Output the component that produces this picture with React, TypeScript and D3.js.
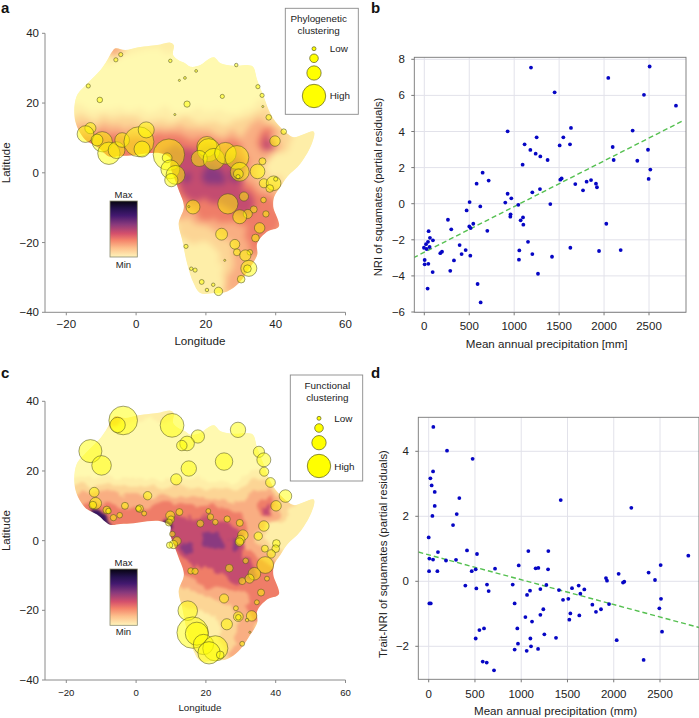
import React from "react";
import * as d3 from "d3";

type P = [number, number];
type B = [number, number, number];

const africaOutline: P[] = [[-5.9,35.7],[-3.1,35.2],[0.3,35.9],[4.1,36.4],[7,36.8],[9.8,37.3],[10.8,36.6],[10.6,33.8],[12.2,32.3],[13.7,31.6],[15.6,30.4],[18.4,30.9],[20.3,32.3],[22.3,33.1],[24.2,31.4],[28,30.7],[31.8,30.9],[33.5,30.4],[34.7,26.6],[36.6,21.8],[38,18],[39.9,14.7],[43.3,11.3],[45.2,10.2],[50.9,11.8],[50.4,8.5],[47.1,2.7],[43.3,-1.1],[41.4,-4],[39.6,-6.8],[39.3,-9.7],[40.9,-15.4],[37.5,-16.9],[34.7,-20.2],[34.7,-23.5],[32.8,-26.9],[29.4,-31.7],[26.1,-34],[22.3,-34.5],[18.4,-34.5],[16.5,-31.7],[14.6,-25.9],[13.2,-19.2],[12.2,-14.5],[13.7,-9.7],[12.2,-4.9],[10.8,-1.1],[9.8,1.8],[9.8,4.2],[7,5.6],[3.2,5.6],[-0.7,5],[-4.5,4.8],[-7.5,4.6],[-11.2,7.5],[-14.5,9.4],[-17.4,14.7],[-17.1,21.8],[-14,25.6],[-10.2,29.5],[-8.3,32.3],[-6.9,34.7]];

const bandSahara: P[] = [[-22,40],[55,40],[55,-5],[-22,-5]];
const bandPale: P[] = [[-20,18],[-10,18.5],[0,18],[10,18],[20,17.5],[30,17.5],[36,21],[42,16],[55,14],[55,0],[44,-18],[38,-36],[10,-36],[8,-10],[5,2],[-20,2]];
const bandPeach: P[] = [[-20,15.5],[-10,16],[0,15.5],[10,15.5],[20,15],[30,15],[36,18],[40,15],[45,10],[42,6],[37,4],[38,-1],[42,-4],[44,-16],[37,-26],[33,-36],[26,-36],[25,-30],[24,-24],[19,-20],[14,-19],[9,-8],[5,2],[-20,2]];
const bandOrange: P[] = [[-19,12.5],[-8,13.5],[0,12.5],[8,13],[15,12.5],[22,12],[30,11],[34,14.5],[38,14],[40,9],[36,4],[34,0],[37,-3],[42,-7],[44,-15],[36,-22],[33,-28],[30,-32],[28,-28],[28,-21],[23,-17],[16,-14],[8,-10],[6,2],[-5,2],[-20,8]];
const bandSalmon: P[] = [[-16,10.5],[-8,11],[0,9.5],[8,10.5],[14,10],[22,9.5],[30,8],[32,3],[31,-1.5],[35,-5],[39,-7],[42,-15],[37,-18],[34,-17],[31,-15],[24,-14],[16,-11.5],[11,-7],[8,1],[0,3],[-10,3],[-18,8]];
const bandMoroccoPale: P[] = [[-8,37],[-3,37],[6,38],[12,38],[11,35],[3,35.2],[-4,33.5],[-9,31.5]];
const bandMoroccoOrange: P[] = [[-7,36.5],[-3.5,36],[-3.5,34.5],[-5.5,33.5],[-8,33.5]];
const bandEthiopiaOrange: P[] = [[33.5,13],[38,14.5],[41,11],[40,6],[36,4],[34,7]];
const bandEthiopiaRed: P[] = [[35,11],[37,13],[39.3,12.5],[39,9],[38,6.5],[35.5,6.5]];
const bandEastCoast: P[] = [[33,-14],[40,-12],[42,-16],[37,-19],[35.5,-24],[33,-22]];
const bandCoastSouth: P[] = [[30.5,-28],[33,-26],[33,-31],[28,-34],[26,-32]];
const bandCongo: P[] = [[8,6.5],[14,7],[22,6.5],[28,4],[31,0],[30.5,-4],[27,-8],[20,-8.5],[14,-6],[11,-2],[8,2]];
const bandLakes: P[] = [[27,-7],[31,-5.5],[34,-8],[33,-11],[29,-12],[25,-9]];
const bandCongoCore: P[] = [[19.5,1.5],[23.5,1.5],[25.5,-1.5],[22.5,-3],[19.5,-1.5]];
const bandGabon: P[] = [[13,-1],[16,-1],[15.5,-3],[13.2,-2.8]];
const bandKivu: P[] = [[27.2,0.5],[29.2,-0.5],[28.5,-2.5],[27.2,-1.8]];
const bandEthiopiaCore: P[] = [[36,9.5],[38,10.5],[38.5,7.5],[36.5,6.5]];
const bandGuineaCoast: P[] = [[-13.5,9.5],[-10.5,8.5],[-7.5,6],[-6.8,4],[-9,4],[-13,7.5]];
const bandCameroonCoast: P[] = [[7.2,5.6],[9.8,5.4],[10,3],[9,3.3],[7.2,4]];

const palette = { sand: "#fff9b0", pale: "#feeea8", peach: "#fcd595", orange: "#f9ae82", salmon: "#ef7d68", magenta: "#c44c70", purple: "#8a3a80", dark: "#36145f" };

const sharedBands: [P[], string][] = [
  [bandSahara, palette.sand], [bandMoroccoPale, palette.pale], [bandPale, palette.pale], [bandPeach, palette.peach], [bandOrange, palette.orange], [bandMoroccoOrange, palette.orange],
  [bandEthiopiaOrange, palette.orange], [bandSalmon, palette.salmon], [bandEthiopiaRed, palette.salmon], [bandEastCoast, palette.salmon],
  [bandCoastSouth, palette.orange], [bandCongo, palette.magenta], [bandLakes, palette.magenta], [bandEthiopiaRed, palette.salmon],
  [bandCongoCore, palette.purple], [bandGabon, palette.purple], [bandKivu, palette.purple], [bandEthiopiaCore, palette.magenta],
];
const functionalExtras: [P[], string][] = [[bandGuineaCoast, palette.dark], [bandCameroonCoast, palette.dark]];

const phyloSites: B[] = [[-4.4,33.9,.6],[-5.8,32.4,.6],[9.8,32.1,.5],[17.2,29.2,.4],[12.4,26.5,.3],[14,27.2,.4],[28.7,30.9,.5],[-13.7,24.9,.6],[34.9,24.7,.6],[36.1,22.2,.6],[24.7,21.9,.6],[-10.4,20.9,.8],[14.6,19.7,.9],[36.3,19,.3],[11.1,16.7,.3],[38,15.9,.8],[42.3,11.8,.8],[-13.1,12.8,1.6],[-14.5,11.1,2.4],[-9.7,8.9,2.9],[-11.2,9.4,1.7],[-7.8,5.6,3.2],[-5.6,6.5,2.4],[-4,9.4,2.1],[0.8,8.9,4.3],[2.9,12.3,2.3],[1.7,6.8,2.3],[9.4,5.2,4.5],[8.9,4.3,1.4],[9.8,1,2.7],[11.3,-0.6,2.7],[10.1,-2.1,1.9],[20.3,7.5,2.9],[20.8,6.5,3.3],[18.1,4.1,2.3],[22.3,3.9,3.1],[25.6,5.6,3.1],[28.9,4.4,3.4],[29.7,.3,2.7],[29.3,-.3,1.4],[29.2,-1.1,.6],[34.8,.4,2.1],[36.2,3.3,1],[39.8,9.1,1.5],[36.6,-3,1.3],[39.4,-3,2.1],[40,-1.8,.6],[38.3,-4.5,1.1],[30.9,-6.8,1.3],[36.5,-7.8,.8],[37.2,-11.8,.9],[33.7,-10.5,1],[32,-11.8,1.3],[29.7,-12.6,2],[26.3,-8.9,2.9],[16.3,-9.8,2],[15.1,-9.7,.3],[35.4,-15.8,1.5],[34.2,-18.7,1.1],[24.5,-17.6,1.7],[28.3,-20.5,1.4],[28.9,-22.8,1],[32.6,-22.8,.8],[31.3,-23.7,1.6],[32.3,-27.4,2.3],[31.9,-27.5,1.1],[14.3,-21.1,.6],[25.4,-25.1,.3],[15.8,-27.5,.5],[16.9,-27.9,.6],[18.8,-31.3,.7],[22.1,-32.1,.5],[20.3,-33.6,.5],[23.6,-34,1.2],[30.1,-30.5,1.1]];

const funcSites: B[] = [[-3.7,34.5,4.1],[-5.3,33.2,2.2],[10.3,33.1,3.4],[29.2,31.8,2.2],[17.7,29.9,1.9],[14.6,27.9,2.1],[13.1,27.3,1.5],[-13.1,25.7,3.3],[-9.9,21.6,2.8],[35.2,25.5,1.6],[36.6,23.2,2],[36.7,19.8,1.3],[25.2,22.7,2.5],[15.1,20.7,2.2],[11.5,17.6,1.6],[38.5,16.7,1.4],[42.8,12.8,1.8],[40.1,10,1.5],[-12,13.9,1.4],[3.3,12.9,1.2],[-11.6,10.7,1.7],[-12.4,10.2,1.1],[-3.2,10,1],[1,9.2,1.1],[.7,9.2,.8],[2.3,7.8,.7],[-8.4,8.8,1.1],[-7.9,8.5,.8],[-4.7,7.3,.8],[-6.5,6.6,.9],[12.4,8.2,1],[9.8,7.2,1.3],[10,6.1,1],[9.4,5.2,1],[10.4,1.9,.8],[11.7,-.1,1.2],[10.7,-1.1,1.2],[9.6,-1.3,.9],[20.7,8.5,.7],[21.3,6.8,.9],[18.4,4.9,1],[22.7,5.3,.8],[26.1,6.2,.9],[29.7,5.1,1],[36.6,4.2,1.5],[30.6,1.6,1.5],[29.9,.2,1.3],[29.6,-.4,1.2],[35,1.3,1.2],[36.9,-2.3,1],[40.2,-.8,1.1],[40,-2.3,1.1],[38.7,-3.8,1.2],[31.4,-5.8,.8],[37,-7,2.4],[26.7,-7.9,1.1],[15.7,-8.7,.9],[16.9,-8.8,.9],[33.9,-9.5,1.8],[32.5,-10.9,1.3],[30.4,-11.6,1],[37.5,-10.9,.7],[35.8,-14.9,1],[34.6,-17.7,.7],[25.2,-16.6,1.3],[14.8,-20.1,2.8],[28.6,-19.4,.7],[29.3,-21.8,1.4],[29.3,-22,.8],[33.1,-21.6,1.5],[31.8,-22.8,.5],[26,-24,1.6],[16.2,-26.4,4.5],[17.4,-26.7,3.3],[19.3,-29.8,2.9],[22.7,-30.9,3.6],[20.9,-32.2,3.2],[24.1,-32.8,1.1],[32.6,-26.3,.3],[30.4,-29.6,.7]];

const nriPoints: P[] = [[1187,7.54],[2507,7.6],[2047,6.97],[1450,6.17],[2444,6.03],[2800,5.43],[1632,4.2],[927,4.01],[2318,4.05],[1250,3.68],[1547,3.68],[1116,3.29],[1506,3.23],[1621,3.29],[2096,3.14],[2489,2.99],[1180,2.98],[1239,2.77],[1291,2.62],[1372,2.42],[2107,2.42],[2370,2.38],[1094,2.16],[2515,1.89],[649,1.72],[716,1.28],[582,1.11],[1513,1.33],[1528,1.4],[2496,1.37],[1855,1.31],[1806,1.22],[1910,1.11],[1680,1.09],[1921,.91],[1287,.81],[1766,.74],[1202,.63],[927,.55],[968,.3],[901,.06],[504,.09],[1046,-.06],[1402,-.02],[623,-.15],[471,-.37],[960,-.59],[957,-.72],[1098,-.76],[1072,-.92],[1102,-1.16],[263,-.89],[545,-1.11],[501,-1.26],[516,-1.35],[2025,-1.11],[300,-1.42],[701,-1.5],[48,-1.52],[1154,-2.11],[63,-1.89],[96,-2.03],[41,-2.11],[19,-2.24],[-4,-2.44],[26,-2.51],[59,-2.4],[393,-2.29],[197,-2.66],[178,-2.74],[460,-2.57],[1057,-2.59],[1625,-2.44],[1944,-2.62],[2185,-2.57],[415,-2.79],[512,-2.88],[1202,-2.79],[4,-3.12],[4,-3.36],[45,-3.33],[330,-3.14],[1053,-3.1],[1421,-2.94],[289,-3.72],[93,-3.79],[1265,-3.88],[593,-4.45],[37,-4.7],[627,-5.47]];
const nriFit: P[] = [[-122,-3.0],[2889,4.62]];

const traitPoints: P[] = [[50,4.75],[198,4.02],[475,3.77],[47,3.38],[18,3.17],[32,2.95],[65,2.75],[331,2.56],[65,2.32],[303,2.07],[40,2.01],[263,1.73],[1427,2.5],[2190,2.26],[0,1.35],[100,.9],[414,.95],[522,.84],[1077,.93],[1293,.93],[2806,.79],[7,.7],[47,.67],[187,.64],[295,.66],[2507,.5],[973,.49],[508,.37],[465,.31],[4,.31],[94,.31],[717,.39],[1156,.4],[1185,.41],[1290,.37],[2053,.23],[2377,.27],[2446,.04],[1916,.1],[1927,.02],[2114,-.01],[2100,-.04],[396,-.13],[630,-.1],[908,-.1],[1272,-.11],[1621,-.13],[515,-.22],[648,-.3],[1207,-.24],[1408,-.27],[1549,-.21],[1682,-.25],[1095,-.29],[1063,-.42],[1639,-.38],[1509,-.54],[1452,-.57],[2511,-.54],[7,-.68],[22,-.68],[929,-.68],[1769,-.72],[1949,-.7],[1239,-.86],[1862,-.86],[2493,-.83],[1808,-.94],[1531,-.99],[1207,-1.03],[1628,-1.05],[1045,-1.1],[1520,-1.18],[1117,-1.24],[958,-1.45],[598,-1.45],[548,-1.5],[2522,-1.55],[1250,-1.63],[508,-1.76],[1376,-1.74],[1099,-1.76],[2032,-1.81],[965,-1.92],[1106,-2],[929,-2.1],[1182,-2.08],[1059,-2.14],[2323,-2.42],[584,-2.47],[627,-2.5],[706,-2.74]];
const traitFit: P[] = [[-112,.9],[2921,-1.42]];

const lonTicks = [-20, 0, 20, 40, 60];
const latTicks = [-40, -20, 0, 20, 40];
const precipTicks = [0, 500, 1000, 1500, 2000, 2500];
const nriTicks = [-6, -4, -2, 0, 2, 4, 6, 8];
const traitTicks = [-2, 0, 2, 4];
const legendClasses = [0.57, 1.23, 2.05, 3.35];
const colorStops: [number, string][] = [[0,"#06040e"],[0.14,"#25114f"],[0.26,"#43196f"],[0.42,"#8a3a7c"],[0.58,"#d4506c"],[0.7,"#f4836a"],[0.84,"#fdc08c"],[1,"#fff4ba"]];

const FONT = "'Liberation Sans', Arial, sans-serif";
const fmt = (v: number) => String(v).replace("-", "\u2212");
const AXIS = "#8a8a8a";

function MapPanel({ id, top, bottom, sites, extras, blur, tickSize, labelSize, xTickY, xLabelY, legendTitle, box, legendX, legendYs, lowY, highY, textX, barTop, barBottom, maxY, minY, titleX, titleYs }: any) {
  const x = d3.scaleLinear().domain([-20, 60]).range([66.3, 345.5]);
  const y = d3.scaleLinear().domain([-40, 40]).range([bottom, top]);
  const r = d3.scaleLinear().domain([0, 1]).range([0, 3.49]);
  const line = d3.line<P>().x(d => x(d[0])).y(d => y(d[1]));
  const coast = line.curve(d3.curveCatmullRomClosed.alpha(0.5))(africaOutline) as string;
  const bandLine = d3.line<P>().x(d => x(d[0])).y(d => y(d[1])).curve(d3.curveCatmullRomClosed.alpha(0.5));
  const bands = [...sharedBands, ...extras] as [P[], string][];
  return (
    <g fontFamily={FONT} fill="#222">
      <defs>
        <clipPath id={`clip-${id}`}><path d={coast} /></clipPath>
        <filter id={`blur-${id}`} x="-20%" y="-20%" width="140%" height="140%" colorInterpolationFilters="sRGB">
          <feTurbulence type="fractalNoise" baseFrequency="0.07" numOctaves={3} seed={7} result="n" />
          <feDisplacementMap in="SourceGraphic" in2="n" scale={14} xChannelSelector="R" yChannelSelector="G" result="d" />
          <feGaussianBlur in="d" stdDeviation={blur} />
        </filter>
        <linearGradient id={`grad-${id}`} x1="0" y1="0" x2="0" y2="1">
          {colorStops.map(([o, c]) => <stop key={o} offset={o} stopColor={c} />)}
        </linearGradient>
      </defs>
      <g clipPath={`url(#clip-${id})`}>
        <path d={coast} fill="#fff9b0" />
        <g filter={`url(#blur-${id})`}>
          {bands.map(([pts, c], i) => <path key={i} d={bandLine(pts) as string} fill={c} />)}
        </g>
      </g>
      {sites.map((s: B, i: number) => (
        <circle key={i} cx={x(s[0])} cy={y(s[1])} r={r(s[2])} fill="#ffff00" fillOpacity={0.5} stroke="#4a4a20" strokeOpacity={0.75} strokeWidth={0.7} />
      ))}
      <line x1={45} x2={45} y1={y(40)} y2={y(-40)} stroke={AXIS} />
      <line x1={45} x2={x(60)} y1={y(-40)} y2={y(-40)} stroke={AXIS} />
      {latTicks.map(t => <g key={t}>
        <line x1={42} x2={45} y1={y(t)} y2={y(t)} stroke={AXIS} />
        <text x={39} y={y(t) + 4} textAnchor="end" fontSize={11.5}>{fmt(t)}</text>
      </g>)}
      {lonTicks.map(t => <g key={t}>
        <line x1={x(t)} x2={x(t)} y1={y(-40)} y2={y(-40) + 3} stroke={AXIS} />
        <text x={x(t)} y={xTickY} textAnchor="middle" fontSize={tickSize}>{fmt(t)}</text>
      </g>)}
      <text x={x(20) - 6} y={xLabelY} textAnchor="middle" fontSize={labelSize}>Longitude</text>
      <text transform={`translate(10,${(y(40) + y(-40)) / 2 - 10}) rotate(-90)`} textAnchor="middle" fontSize={11.5}>Latitude</text>
      <rect x={110} y={barTop} width={27.3} height={barBottom - barTop} fill={`url(#grad-${id})`} stroke="#8a8a70" strokeWidth={0.8} />
      <text x={123.5} y={maxY} textAnchor="middle" fontSize={9.5}>Max</text>
      <text x={123.5} y={minY} textAnchor="middle" fontSize={9.5}>Min</text>
      <rect x={box[0]} y={box[1]} width={box[2]} height={box[3]} fill="#fff" stroke="#8a8a8a" strokeWidth={0.9} />
      {legendTitle.map((t: string, i: number) => <text key={t} x={titleX} y={titleYs[i]} textAnchor="middle" fontSize={9.9}>{t}</text>)}
      {legendClasses.map((v, i) => <circle key={v} cx={legendX} cy={legendYs[i]} r={r(v)} fill="#ffff00" stroke="#5a5a20" strokeWidth={0.7} />)}
      <text x={textX} y={lowY} fontSize={9.9}>Low</text>
      <text x={textX} y={highY} fontSize={9.9}>High</text>
    </g>
  );
}

function Scatter({ points, fit, yDomain, yRange, yTicks, frame, xRange, xLabel, yLabel, yLabelX, yLabelY, yTickX, xTickY, xLabelY, xLabelX, ySize }: any) {
  const x = d3.scaleLinear().domain([0, 2500]).range(xRange);
  const y = d3.scaleLinear().domain(yDomain).range(yRange);
  const [l, t, r, b] = frame;
  const clipId = `sc-${l}`;
  const fitPath = d3.line<P>().x(d => x(d[0])).y(d => y(d[1]))(fit) as string;
  return (
    <g fontFamily={FONT} fill="#222">
      <clipPath id={clipId}><rect x={l} y={t} width={r - l} height={b - t} /></clipPath>
      {precipTicks.map(v => <line key={v} x1={x(v)} x2={x(v)} y1={t} y2={b} stroke="#e2e2ea" />)}
      {yTicks.map((v: number) => <line key={v} x1={l} x2={r} y1={y(v)} y2={y(v)} stroke="#e2e2ea" />)}
      <path d={fitPath} fill="none" stroke="#55c050" strokeWidth={1.4} strokeDasharray="5 3" clipPath={`url(#${clipId})`} />
      {points.map((p: P, i: number) => <circle key={i} cx={x(p[0])} cy={y(p[1])} r={1.9} fill="#0606c4" />)}
      <rect x={l} y={t} width={r - l} height={b - t} fill="none" stroke="#777" strokeWidth={0.9} />
      {precipTicks.map(v => <g key={v}>
        <line x1={x(v)} x2={x(v)} y1={b} y2={b + 3} stroke="#777" />
        <text x={x(v)} y={xTickY} textAnchor="middle" fontSize={11.5}>{v}</text>
      </g>)}
      {yTicks.map((v: number) => <g key={v}>
        <line x1={l - 3} x2={l} y1={y(v)} y2={y(v)} stroke="#777" />
        <text x={yTickX} y={y(v) + 4} textAnchor="end" fontSize={11.5}>{fmt(v)}</text>
      </g>)}
      <text x={xLabelX} y={xLabelY} textAnchor="middle" fontSize={11.6}>{xLabel}</text>
      <text transform={`translate(${yLabelX},${yLabelY}) rotate(-90)`} textAnchor="middle" fontSize={ySize}>{yLabel}</text>
    </g>
  );
}

export default function App() {
  return (
    <svg width={699} height={718} viewBox="0 0 699 718" style={{ position: "absolute", left: 0, top: 0, background: "#fff" }}>
      <g fontFamily={FONT} fontWeight="bold" fontSize={15} fill="#111">
        <text x={1} y={13}>a</text>
        <text x={371} y={13}>b</text>
        <text x={1} y={378}>c</text>
        <text x={371} y={378}>d</text>
      </g>
      <MapPanel id="a" top={33.3} bottom={312.3} sites={phyloSites} extras={[]} blur={3} tickSize={11.5} labelSize={11.6} xTickY={328} xLabelY={345}
        legendTitle={["Phylogenetic", "clustering"]} titleX={318.7} titleYs={[22, 34]} box={[285.3, 8.3, 73, 106]} legendX={314} legendYs={[48.7, 58.3, 73, 96]}
        lowY={51.7} highY={99} textX={329.7} barTop={201} barBottom={257} maxY={197.7} minY={267.7} />
      <MapPanel id="c" top={401.3} bottom={680} sites={funcSites} extras={functionalExtras} blur={1.8} tickSize={9.6} labelSize={9.8} xTickY={696} xLabelY={711}
        legendTitle={["Functional", "clustering"]} titleX={327.3} titleYs={[389, 401.3]} box={[290.3, 375, 72.4, 106]} legendX={319} legendYs={[418.3, 428, 442.7, 466]}
        lowY={421.7} highY={470} textX={334.3} barTop={569} barBottom={625.3} maxY={566} minY={635} />
      <Scatter points={nriPoints} fit={nriFit} yDomain={[-6, 8]} yRange={[312, 59.3]} yTicks={nriTicks} frame={[414.3, 57.3, 686, 312.3]} xRange={[424.3, 649]}
        xLabel="Mean annual precipitation [mm]" yLabel="NRI of squamates (partial residuals)" ySize={11.2} yLabelX={381.7} yLabelY={187} yTickX={405} xTickY={330} xLabelY={348} xLabelX={546.7} />
      <Scatter points={traitPoints} fit={traitFit} yDomain={[-2, 4]} yRange={[646.3, 451.3]} yTicks={traitTicks} frame={[418.3, 417.3, 699, 679.3]} xRange={[428.7, 660]}
        xLabel="Mean annual precipitation (mm)" yLabel="Trait-NRI of squamates (partial residuals)" ySize={11.4} yLabelX={386.7} yLabelY={554} yTickX={409} xTickY={698} xLabelY={715} xLabelX={555.5} />
    </svg>
  );
}
